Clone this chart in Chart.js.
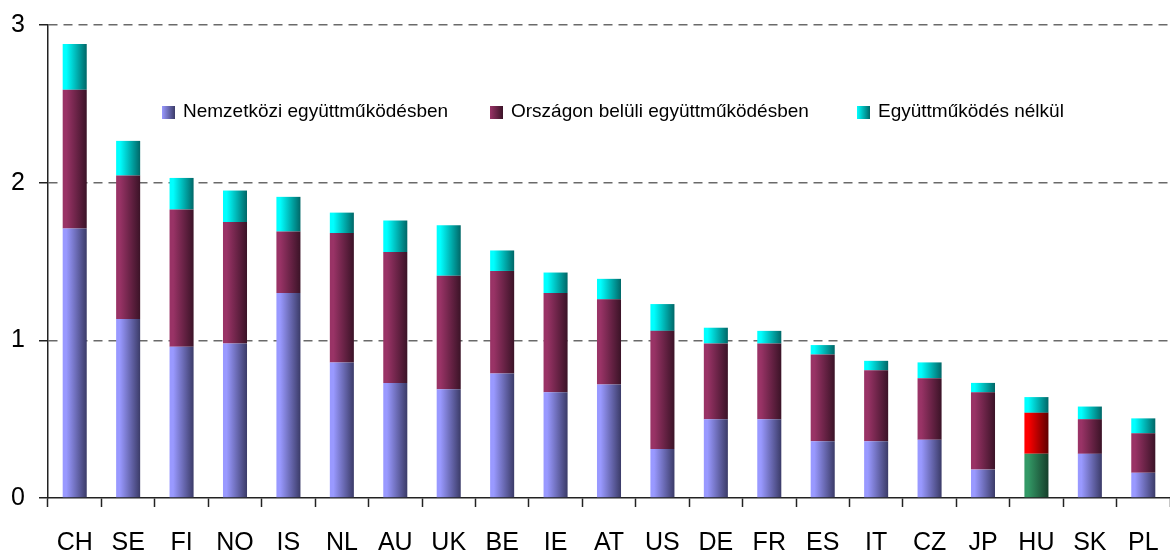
<!DOCTYPE html>
<html>
<head>
<meta charset="utf-8">
<script src="https://cdn.jsdelivr.net/npm/chart.js@4"></script>
<style>
  html, body { margin: 0; padding: 0; background: #fff; }
  #wrap { width: 1170px; height: 555px; position: relative; }
</style>
</head>
<body>
<div id="wrap"><canvas id="grafikon"></canvas></div>
<script>
const categories = ["CH", "SE", "FI", "NO", "IS", "NL", "AU", "UK", "BE", "IE", "AT",
  "US", "DE", "FR", "ES", "IT", "CZ", "JP", "HU", "SK", "PL"];
const nemzetkozi = [1.71, 1.135, 0.96, 0.98, 1.30, 0.86, 0.73, 0.69, 0.79, 0.67, 0.72,
  0.31, 0.50, 0.50, 0.36, 0.36, 0.37, 0.18, 0.28, 0.28, 0.16];
const orszagon = [0.88, 0.91, 0.87, 0.77, 0.39, 0.82, 0.83, 0.72, 0.65, 0.63, 0.54,
  0.75, 0.48, 0.48, 0.55, 0.45, 0.39, 0.49, 0.26, 0.22, 0.25];
const nelkul = [0.29, 0.22, 0.20, 0.20, 0.22, 0.13, 0.20, 0.32, 0.13, 0.13, 0.13,
  0.17, 0.10, 0.08, 0.06, 0.06, 0.10, 0.06, 0.10, 0.08, 0.095];
const yTicks = [0, 1, 2, 3];
const seriesNames = ["Nemzetközi együttműködésben", "Országon belüli együttműködésben", "Együttműködés nélkül"];

const BAR_PCT = 0.45;
const kiemelt = categories.indexOf("HU");

// light -> dark colours per series (HU has its own)
const szinek = [
  ["#9999ff", "#3b3b68"],
  ["#993366", "#3b1327"],
  ["#00ffff", "#006767"]
];
const huSzinek = [
  ["#339966", "#163f2b"],
  ["#ff0000", "#600000"],
  ["#00ffff", "#006767"]
];

function savos(ctx, ds) {
  const chart = ctx.chart;
  const pair = ctx.dataIndex === kiemelt ? huSzinek[ds] : szinek[ds];
  const x = chart.scales.x;
  if (!chart.chartArea || !x) return pair[0];
  const cx = x.getPixelForValue(ctx.dataIndex);
  const w = (x.width / categories.length) * BAR_PCT;
  const g = chart.ctx.createLinearGradient(cx - w / 2, 0, cx + w / 2, 0);
  g.addColorStop(0, pair[0]);
  g.addColorStop(0.15, pair[0]);
  g.addColorStop(1, pair[1]);
  return g;
}

// legend drawn inside the plot area, like the original
const belsoJelmagyarazat = {
  id: "belsoJelmagyarazat",
  afterDraw(chart) {
    const c = chart.ctx;
    const boxX = [162, 490, 857];
    const y = 112;
    c.save();
    c.font = "19px 'Liberation Sans', Arial, sans-serif";
    c.textBaseline = "middle";
    seriesNames.forEach((nev, i) => {
      const g = c.createLinearGradient(boxX[i], 0, boxX[i] + 13, 0);
      g.addColorStop(0, szinek[i][0]);
      g.addColorStop(1, szinek[i][1]);
      c.fillStyle = g;
      c.fillRect(boxX[i], y - 6, 13, 13);
      c.fillStyle = "#000";
      c.fillText(nev, boxX[i] + 21, y);
    });
    c.restore();
  }
};

const adatsorok = [nemzetkozi, orszagon, nelkul].map((d, i) => ({
  label: seriesNames[i],
  data: d,
  backgroundColor: (ctx) => savos(ctx, i),
  borderWidth: 0,
  barPercentage: BAR_PCT,
  categoryPercentage: 1
}));

new Chart(document.getElementById("grafikon"), {
  type: "bar",
  data: { labels: categories, datasets: adatsorok },
  options: {
    responsive: true,
    maintainAspectRatio: false,
    animation: false,
    layout: { padding: { top: 25, right: 0, bottom: 0, left: 0 } },
    plugins: {
      legend: { display: false },
      tooltip: { enabled: false }
    },
    scales: {
      x: {
        stacked: true,
        grid: {
          offset: true,
          drawOnChartArea: false,
          tickLength: 9,
          tickColor: "#222",
          tickWidth: 1.5
        },
        border: { color: "#222", width: 1.5 },
        ticks: {
          color: "#000",
          padding: 21,
          maxRotation: 0,
          font: { family: "'Liberation Sans', Arial, sans-serif", size: 25 }
        },
        afterFit: (s) => {
          s.height = 57;
          s.paddingLeft = 0;
          s.paddingRight = 0;
        }
      },
      y: {
        stacked: true,
        min: 0,
        max: 3,
        afterBuildTicks: (s) => { s.ticks = yTicks.map((v) => ({ value: v })); },
        grid: {
          color: (ctx) => (ctx.tick && ctx.tick.value === 0 ? "rgba(0,0,0,0)" : "#6a6a6a"),
          lineWidth: 1.5,
          tickLength: 9,
          tickColor: "#222",
          tickBorderDash: [],
          tickWidth: 1.5
        },
        border: { color: "#222", width: 1.5, dash: [9, 6] },
        ticks: {
          color: "#000",
          padding: 14,
          font: { family: "'Liberation Sans', Arial, sans-serif", size: 25 }
        },
        afterFit: (s) => {
          s.width = 48;
          s.paddingTop = 0;
          s.paddingBottom = 0;
        }
      }
    }
  },
  plugins: [belsoJelmagyarazat]
});
</script>
</body>
</html>
